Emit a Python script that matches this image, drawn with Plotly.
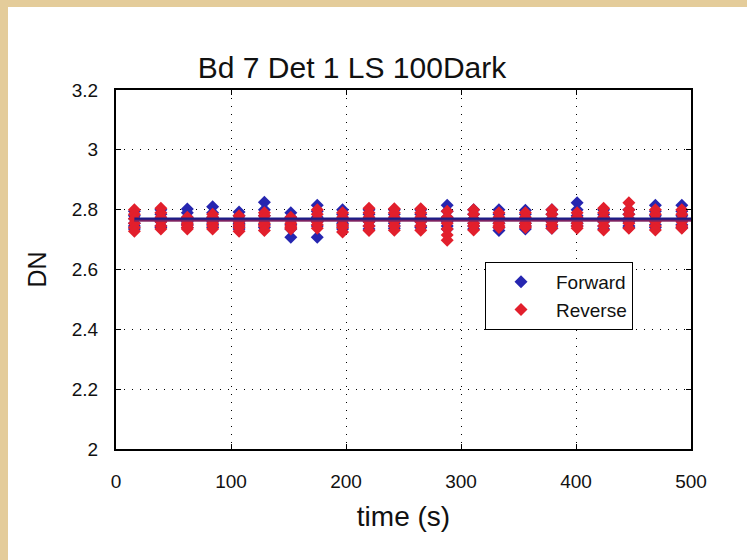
import numpy as np
import plotly.graph_objects as go

# Acquisition times (s) of each frame group
times = [16, 39, 62, 84, 107, 129, 152, 175, 197, 220, 242,
         265, 288, 311, 333, 356, 379, 401, 424, 446, 469, 492]

# DN samples per group, forward scans
forward_dn = [
    [2.795, 2.780, 2.770, 2.755, 2.745, 2.735],
    [2.800, 2.785, 2.770, 2.760, 2.745, 2.740],
    [2.802, 2.790, 2.775, 2.760, 2.750, 2.740],
    [2.810, 2.790, 2.775, 2.760, 2.750, 2.740],
    [2.792, 2.780, 2.770, 2.755, 2.745, 2.735],
    [2.825, 2.800, 2.780, 2.765, 2.750, 2.740],
    [2.790, 2.775, 2.765, 2.750, 2.735, 2.708],
    [2.815, 2.795, 2.775, 2.760, 2.745, 2.708],
    [2.800, 2.785, 2.770, 2.755, 2.745, 2.735],
    [2.800, 2.785, 2.770, 2.760, 2.745, 2.735],
    [2.800, 2.785, 2.770, 2.755, 2.745, 2.738],
    [2.800, 2.785, 2.770, 2.760, 2.745, 2.740],
    [2.815, 2.795, 2.775, 2.760, 2.745, 2.735],
    [2.800, 2.785, 2.770, 2.755, 2.745, 2.735],
    [2.800, 2.785, 2.770, 2.755, 2.740, 2.730],
    [2.798, 2.785, 2.770, 2.755, 2.745, 2.735],
    [2.800, 2.785, 2.770, 2.760, 2.745, 2.738],
    [2.823, 2.800, 2.780, 2.765, 2.755, 2.745],
    [2.800, 2.785, 2.775, 2.760, 2.745, 2.735],
    [2.800, 2.785, 2.770, 2.760, 2.745, 2.740],
    [2.815, 2.795, 2.780, 2.765, 2.750, 2.740],
    [2.815, 2.795, 2.780, 2.765, 2.750, 2.740],
]

# DN samples per group, reverse scans
reverse_dn = [
    [2.800, 2.785, 2.770, 2.755, 2.740, 2.728],
    [2.805, 2.790, 2.775, 2.760, 2.745, 2.735],
    [2.775, 2.765, 2.755, 2.748, 2.740, 2.735],
    [2.785, 2.775, 2.765, 2.755, 2.745, 2.735],
    [2.780, 2.770, 2.760, 2.750, 2.740, 2.728],
    [2.790, 2.780, 2.770, 2.755, 2.745, 2.730],
    [2.775, 2.765, 2.755, 2.745, 2.740, 2.735],
    [2.800, 2.785, 2.770, 2.760, 2.750, 2.738],
    [2.790, 2.775, 2.765, 2.750, 2.740, 2.725],
    [2.805, 2.790, 2.775, 2.760, 2.745, 2.730],
    [2.803, 2.790, 2.775, 2.760, 2.745, 2.731],
    [2.803, 2.790, 2.775, 2.760, 2.745, 2.731],
    [2.795, 2.775, 2.755, 2.735, 2.715, 2.698],
    [2.800, 2.785, 2.770, 2.755, 2.745, 2.732],
    [2.790, 2.775, 2.765, 2.755, 2.745, 2.740],
    [2.790, 2.775, 2.765, 2.755, 2.745, 2.740],
    [2.800, 2.785, 2.770, 2.760, 2.750, 2.738],
    [2.790, 2.775, 2.765, 2.755, 2.745, 2.738],
    [2.805, 2.790, 2.775, 2.760, 2.745, 2.732],
    [2.823, 2.800, 2.785, 2.770, 2.755, 2.738],
    [2.800, 2.785, 2.770, 2.760, 2.745, 2.732],
    [2.800, 2.785, 2.770, 2.760, 2.745, 2.738],
]

x_ticks = [0, 100, 200, 300, 400, 500]
y_ticks = [2, 2.2, 2.4, 2.6, 2.8, 3, 3.2]
y_tick_text = ["2", "2.2", "2.4", "2.6", "2.8", "3", "3.2"]

FONT = "Liberation Sans, Arial, sans-serif"
BLUE = "#2626b0"
RED = "#e21f2c"


def flatten(groups):
    xs, ys = [], []
    for t, vals in zip(times, groups):
        for v in vals:
            xs.append(t)
            ys.append(v)
    return xs, ys


fx, fy = flatten(forward_dn)
rx, ry = flatten(reverse_dn)
fwd_mean = float(np.mean(fy))
rev_mean = float(np.mean(ry))

fig = go.Figure()

fig.add_trace(go.Scatter(
    x=fx, y=fy, mode="markers", name="Forward", legendgroup="f",
    marker=dict(symbol="diamond", size=10, color=BLUE),
))
fig.add_trace(go.Scatter(
    x=rx, y=ry, mode="markers", name="Reverse", legendgroup="r",
    marker=dict(symbol="diamond", size=10, color=RED),
))
# mean level lines of both scan directions
fig.add_trace(go.Scatter(
    x=[times[0], x_ticks[-1]], y=[fwd_mean, fwd_mean], mode="lines",
    line=dict(color="#1c1c86", width=4), showlegend=False,
))
fig.add_trace(go.Scatter(
    x=[times[0], x_ticks[-1]], y=[rev_mean, rev_mean], mode="lines",
    line=dict(color="rgba(200,40,70,0.55)", width=2), showlegend=False,
))

# plot area: x 116..691, y 90..449 in a 747x560 page
L, R, T, B = 116, 56, 90, 111
pw, ph = 747 - L - R, 560 - T - B

axis_common = dict(
    showline=True, linecolor="black", linewidth=2, mirror="ticks",
    ticks="inside", ticklen=5, tickcolor="black", tickwidth=1,
    showgrid=True, gridcolor="black", gridwidth=1, griddash="1px,7px",
    zeroline=False, tickfont=dict(family=FONT, size=19, color="#111"),
)

fig.update_layout(
    width=747, height=560,
    margin=dict(l=L, r=R, t=T, b=B),
    paper_bgcolor="#e4cc9a",
    plot_bgcolor="white",
    title=dict(text="Bd 7 Det 1 LS 100Dark", x=352 / 747, xanchor="center",
               y=1 - 67 / 560, yanchor="middle",
               font=dict(family=FONT, size=30, color="#111")),
    xaxis=dict(range=[0, 500], tickvals=x_ticks, ticklabelstandoff=14,
               title=dict(text="time (s)", standoff=16,
                          font=dict(family=FONT, size=28, color="#111")),
               **axis_common),
    yaxis=dict(range=[2, 3.2], tickvals=y_ticks, ticktext=y_tick_text,
               ticklabelstandoff=12,
               title=dict(text="DN", standoff=18,
                          font=dict(family=FONT, size=25, color="#111")),
               **axis_common),
    legend=dict(
        x=(485 - L) / pw, y=(449 - 262) / ph, xanchor="left", yanchor="top",
        bgcolor="white", bordercolor="black", borderwidth=1,
        font=dict(family=FONT, size=19, color="#111"),
        tracegroupgap=0, itemwidth=60,
    ),
    shapes=[dict(type="rect", xref="paper", yref="paper", layer="below",
                 x0=(8 - L) / pw, x1=(747 - L) / pw + 0.01,
                 y0=-(560 - 449) / ph - 0.01, y1=(449 - 7) / ph,
                 fillcolor="white", line=dict(width=0))],
)

fig.write_html("out.html")
